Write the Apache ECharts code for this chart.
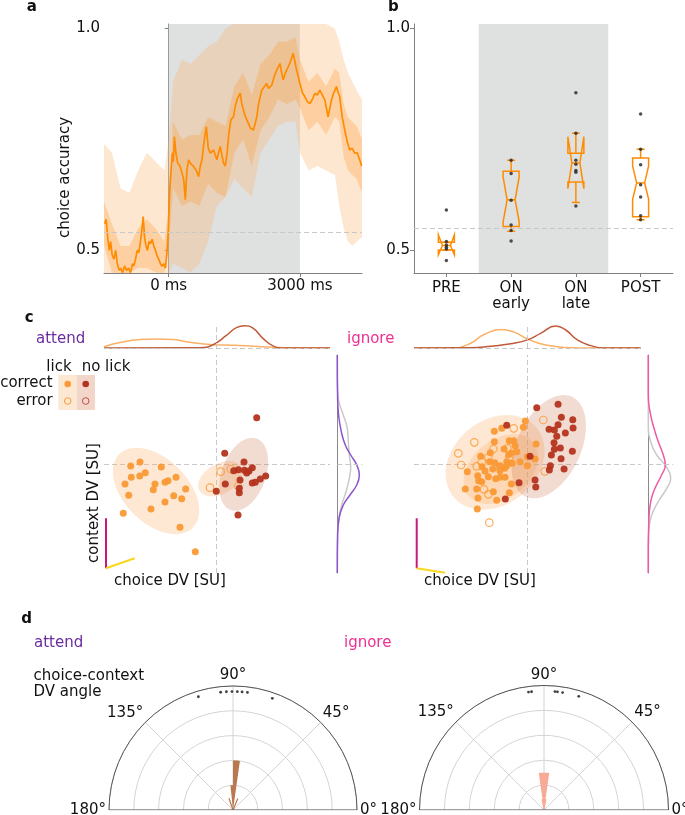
<!DOCTYPE html>
<html><head><meta charset="utf-8">
<script src="https://cdn.jsdelivr.net/npm/echarts@6/dist/echarts.min.js"></script>
<style>html,body{margin:0;padding:0;background:#fff}#c{width:685px;height:815px}</style>
</head><body><div id="c"></div>
<script>
// ---------- Panel a: choice accuracy over time ----------
const aMeanLine = [[-1465,0.56],[-1430,0.57],[-1396,0.53],[-1362,0.50],[-1328,0.52],[-1294,0.49],[-1253,0.48],[-1214,0.50],[-1175,0.47],[-1134,0.455],[-1100,0.46],[-1055,0.45],[-1009,0.465],[-964,0.455],[-918,0.46],[-873,0.45],[-827,0.47],[-797,0.465],[-759,0.48],[-720,0.50],[-684,0.495],[-645,0.52],[-610,0.55],[-583,0.576],[-554,0.53],[-519,0.51],[-485,0.50],[-451,0.52],[-417,0.515],[-378,0.525],[-342,0.51],[-303,0.50],[-264,0.487],[-228,0.48],[-189,0.47],[-150,0.464],[-114,0.47],[-75,0.46],[-36,0.50],[-7,0.55],[16,0.62],[39,0.66],[61,0.69],[84,0.72],[107,0.70],[130,0.756],[164,0.72],[205,0.697],[255,0.69],[305,0.674],[342,0.66],[380,0.614],[415,0.68],[456,0.704],[506,0.695],[569,0.689],[631,0.68],[683,0.666],[722,0.69],[761,0.704],[802,0.74],[859,0.779],[904,0.73],[950,0.719],[989,0.72],[1025,0.726],[1064,0.715],[1102,0.704],[1139,0.72],[1177,0.734],[1216,0.715],[1253,0.697],[1292,0.69],[1337,0.72],[1371,0.76],[1421,0.794],[1481,0.801],[1519,0.824],[1565,0.84],[1634,0.854],[1672,0.83],[1708,0.816],[1759,0.80],[1822,0.786],[1873,0.775],[1936,0.771],[1975,0.785],[2014,0.801],[2055,0.83],[2128,0.861],[2180,0.868],[2241,0.876],[2282,0.865],[2355,0.872],[2408,0.89],[2469,0.906],[2544,0.921],[2583,0.90],[2617,0.884],[2669,0.90],[2734,0.914],[2783,0.925],[2847,0.944],[2886,0.925],[2925,0.906],[2966,0.89],[3000,0.876],[3057,0.855],[3114,0.846],[3171,0.835],[3228,0.831],[3285,0.84],[3342,0.854],[3399,0.85],[3456,0.861],[3513,0.85],[3570,0.839],[3645,0.801],[3684,0.82],[3722,0.839],[3775,0.855],[3836,0.869],[3877,0.855],[3911,0.846],[3968,0.80],[4025,0.771],[4082,0.745],[4139,0.726],[4196,0.73],[4253,0.719],[4310,0.72],[4367,0.704],[4412,0.69]];
// [time, lower, upper]
const aOuterBand = [[-1480,0.449,0.74],[-1300,0.449,0.72],[-1100,0.449,0.64],[-900,0.449,0.63],[-700,0.449,0.68],[-500,0.449,0.72],[-300,0.449,0.70],[-100,0.449,0.68],[0,0.449,0.75],[100,0.47,0.88],[300,0.46,0.93],[500,0.45,0.92],[700,0.47,0.94],[900,0.52,0.96],[1100,0.60,0.97],[1300,0.62,1.0],[1500,0.66,1.01],[1700,0.64,1.01],[1900,0.62,1.01],[2100,0.72,1.01],[2300,0.75,1.01],[2500,0.78,1.01],[2700,0.79,1.01],[2900,0.79,1.01],[3000,0.72,1.01],[3200,0.68,1.01],[3400,0.69,1.01],[3600,0.68,1.01],[3800,0.67,1.0],[3900,0.60,0.97],[4000,0.55,0.93],[4100,0.52,0.90],[4200,0.51,0.88],[4300,0.52,0.86],[4420,0.53,0.84]];
const aInnerBand = [[-1480,0.51,0.61],[-1300,0.45,0.56],[-1100,0.449,0.51],[-900,0.449,0.51],[-700,0.46,0.55],[-500,0.46,0.57],[-300,0.45,0.55],[-100,0.449,0.52],[0,0.50,0.60],[100,0.64,0.79],[300,0.60,0.75],[500,0.61,0.76],[700,0.60,0.76],[900,0.65,0.80],[1100,0.63,0.79],[1300,0.62,0.78],[1500,0.72,0.87],[1700,0.75,0.90],[1900,0.69,0.85],[2100,0.77,0.92],[2300,0.80,0.94],[2500,0.84,0.97],[2700,0.83,0.97],[2900,0.84,0.98],[3000,0.82,0.93],[3200,0.77,0.88],[3400,0.79,0.90],[3600,0.76,0.87],[3800,0.80,0.91],[3900,0.79,0.90],[4000,0.71,0.83],[4100,0.68,0.80],[4200,0.67,0.79],[4300,0.66,0.78],[4420,0.63,0.75]];
const aChance = 0.543;

// ---------- Panel b: boxplots ----------
const bCats = ['PRE', 'ON\nearly', 'ON\nlate', 'POST'];
const bWhisLo = [0.501, 0.543, 0.608, 0.569];
const bQ1 = [0.501, 0.554, 0.654, 0.576];
const bMed = [0.511, 0.614, 0.697, 0.652];
const bQ3 = [0.518, 0.678, 0.719, 0.708];
const bWhisHi = [0.518, 0.703, 0.764, 0.728];
const bNotchLo = [0.49, 0.565, 0.639, 0.615];
const bNotchHi = [0.535, 0.665, 0.756, 0.69];
const bPoints = [
  [0.591, 0.52, 0.512, 0.507, 0.503, 0.477],
  [0.703, 0.673, 0.613, 0.557, 0.545, 0.521],
  [0.855, 0.764, 0.703, 0.694, 0.68, 0.676, 0.60],
  [0.807, 0.728, 0.693, 0.648, 0.62, 0.578, 0.569]
];
const bChance = 0.55;

// ---------- Panel c: DV scatter ----------
const cLLickCorrect = [[-7.67,0.2],[-8.6,-0.2],[-5.54,-0.3],[-7.14,-0.87],[-8.54,-1.33],[-7.70,-1.2],[-4.07,-1.33],[-9.17,-2.0],[-6.17,-2.0],[-5.17,-1.83],[-4.87,-1.67],[-3.1,-2.5],[-6.34,-2.57],[-8.8,-3.13],[-4.3,-3.17],[-3.5,-3.47],[-5.17,-3.8],[-6.57,-4.5],[-9.34,-4.93],[-3.67,-6.33],[-2.14,-8.77]];
const cLLickError = [[0.4,-0.77],[1.4,-0.5],[-0.67,-2.37],[2.16,-2.23]];
const cLNoLickCorrect = [[4.0,4.63],[0.8,1.07],[2.73,0.2],[3.56,-0.37],[1.7,-0.67],[2.16,-0.57],[2.77,-0.63],[3.23,-0.7],[3.0,-0.9],[2.33,-1.6],[0.86,-2.0],[3.56,-1.9],[3.86,-1.83],[4.36,-1.5],[4.9,-1.2],[-0.04,-2.73],[2.26,-2.87],[2.13,-5.1],[2.26,-2.43]];
const cRLickCorrect = [[-0.2,4.3],[-2.56,3.57],[-3.3,3.27],[-0.4,3.67],[-3.3,2.23],[-1.8,2.33],[-1.36,2.33],[-1.23,1.83],[-3.7,1.13],[-2.33,1.5],[0.87,2.0],[-1.86,0.93],[-1.6,1.1],[-4.66,0.77],[-3.76,0.23],[-3.26,0.13],[-2.06,0.23],[-1.53,0.07],[-0.73,0.23],[0.0,0.73],[0.77,0.5],[0.0,-0.17],[-2.73,-0.17],[-2.26,-0.43],[-3.46,-0.5],[-4.53,-0.27],[-6.0,-0.77],[-4.96,-1.17],[-4.86,-1.67],[-4.56,-1.77],[-3.9,-1.27],[-3.16,-1.47],[-2.73,-1.33],[-2.23,-1.33],[-1.6,-2.0],[-6.2,-2.5],[-5.06,-2.5],[-3.4,-2.77],[-1.8,-2.87],[-4.93,-3.4],[-3.06,-3.63],[-5.0,-4.5],[-2.73,-0.67],[-4.23,-0.7],[-2.06,-0.17],[-1.06,1.23]];
const cRLickError = [[1.6,4.4],[-1.36,3.57],[-6.9,1.07],[-6.63,-0.1],[-5.3,2.17],[-3.4,1.5],[-3.9,0.67],[-5.06,-0.23],[-4.33,-2.53],[-3.9,-3.03],[-3.8,-5.87],[-2.0,1.57],[-1.8,0.73],[1.74,-0.73],[-4.56,0.2],[-2.73,-0.37]];
const cRNoLickCorrect = [[3.07,5.97],[0.94,5.63],[3.4,4.67],[4.54,4.43],[-2.06,3.87],[3.07,3.93],[2.17,3.47],[2.7,3.4],[4.57,3.6],[3.8,3.1],[2.94,2.77],[2.67,2.13],[3.3,1.6],[4.5,1.27],[2.7,1.47],[2.4,0.9],[3.37,0.53],[0.27,0.77],[2.3,-0.17],[3.67,-0.5],[2.2,-0.6],[0.77,-1.6],[0.84,-2.3],[-0.83,-1.87],[-2.2,-3.5]];
// ellipses: [cx, cy, semiMajor, semiMinor, angleDeg, colourIndex]
const cLEllipses = [[-6.07,-2.7,5.2,3.2,-45,0],[0.36,-1.47,2.4,1.5,30,0],[2.7,-1.03,3.8,2.2,70,1]];
const cREllipses = [[-3.23,0.17,5.4,4.2,40,0],[-2.66,-0.5,4.2,2.9,40,0],[2.14,1.73,5.5,3.2,65,1]];
// marginal densities (top: [choiceDV, density]; right: [density, contextDV])
const cLTopLick = [[-11.27,0.04],[-9.67,0.18],[-7.67,0.28],[-6.0,0.30],[-4.33,0.28],[-2.67,0.19],[-0.67,0.12],[1.67,0.09],[3.67,0.06],[5.67,0.02],[8.33,0],[11.33,0]];
const cLTopNoLick = [[-11.27,0],[-1.67,0.01],[-0.37,0.11],[0.97,0.42],[1.97,0.68],[2.8,0.74],[3.63,0.66],[4.63,0.32],[5.63,0.07],[6.63,0],[11.33,0]];
const cRTopLick = [[-11.33,0],[-7.3,0],[-5.66,0.16],[-4.33,0.45],[-2.66,0.62],[-1.33,0.53],[0,0.3],[1.33,0.14],[2.67,0.06],[4.34,0.01],[6.34,0],[11.33,0]];
const cRTopNoLick = [[-11.33,0],[-5.66,0.01],[-3.66,0.06],[-1.66,0.14],[0,0.27],[1.33,0.49],[2.83,0.73],[3.83,0.6],[5.0,0.27],[6.33,0.08],[7.67,0],[11.33,0]];
const cLSideAttend = [[0,10.9],[0.3,6.57],[1.3,4.9],[4.0,3.23],[8.0,1.9],[13.4,0.9],[19.4,-0.1],[22.0,-1.1],[19.4,-2.1],[12.7,-3.1],[6.0,-4.1],[1.7,-5.43],[0.3,-7.1],[0,-10.9]];
const cLSideOther = [[0,10.9],[0,8.23],[1,6.57],[6,4.9],[10,3.57],[11,2.23],[12,0.9],[13.4,-0.27],[12,-1.43],[8.7,-2.77],[4.4,-4.1],[1.3,-5.77],[0,-8.43],[0,-10.9]];
const cRSideIgnore = [[0,10.9],[0,6.9],[1.7,5.23],[5.7,3.57],[10,2.23],[15,0.9],[17,-0.1],[13.3,-1.1],[6.7,-2.43],[2.4,-3.77],[0.5,-5.77],[0,-8.43],[0,-10.9]];
const cRSideOther = [[0,10.9],[0,3.9],[2.4,2.23],[8.4,0.9],[18.4,-0.33],[22.4,-1.43],[18.4,-2.43],[10,-3.77],[3.4,-5.1],[0.7,-6.43],[0,-8.43],[0,-10.9]];
// DV direction bars (context = vertical, choice = tilted)
const cLContextBar = [[-11.07,-5.43],[-11.07,-10.43]];
const cLChoiceBar = [[-11.07,-10.43],[-8.2,-9.43]];
const cRContextBar = [[-11.06,-5.43],[-11.06,-10.43]];
const cRChoiceBar = [[-11.06,-10.43],[-8.23,-10.87]];

// ---------- Panel d: polar angle histograms ----------
// [height, angleStart, angleEnd]
const dAttendBins = [[0.4,82,90],[0.2,90,96]];
const dIgnoreBins = [[0.3,82,90],[0.3,90,98]];
const dAttendDots = [107,96,93.2,90.5,87.9,85.6,83,70.6];
const dIgnoreDots = [97.5,96,84.7,83.5,81,73];
const dDotRadius = 0.955;
const dArrowAttend = [[0.1,109],[0,90],[0.1,67]];
const dArrowIgnore = [[0.09,100],[0,90],[0.09,80]];

// ---------- styles ----------
const FONT = 'DejaVu Sans';
const ORANGE = '#ff8c00';
const LICK = '#fa9a35', NOLICK = '#b5341f';
const ELL_COL = ['rgba(252,180,110,0.30)', 'rgba(205,110,70,0.25)'];
const AX = '#808080';
const DASH = {color:'#c8c8c8', type:[5,3], width:1};

const chart = echarts.init(document.getElementById('c'), null, {width:685, height:815});

function bandSeries(pts, color) {
  return {type:'custom', xAxisIndex:0, yAxisIndex:0, z:2, silent:true,
    data:[[pts[0][0], pts[0][1]]],
    renderItem:(params, api) => {
      const up = pts.map(p => api.coord([p[0], p[2]]));
      const lo = pts.slice().reverse().map(p => api.coord([p[0], p[1]]));
      return {type:'polygon', shape:{points: up.concat(lo)}, style:{fill:color}};
    }};
}
function ellipseSeries(ells, g) {
  return {type:'custom', xAxisIndex:g, yAxisIndex:g, z:1, silent:true, data:ells,
    renderItem:(params, api) => {
      const cx=api.value(0), cy=api.value(1), a=api.value(2), b=api.value(3), th=api.value(4)*Math.PI/180;
      const pts=[];
      for (let i=0;i<90;i++){ const t=i/90*2*Math.PI; const x=a*Math.cos(t), y=b*Math.sin(t);
        pts.push(api.coord([cx + x*Math.cos(th) - y*Math.sin(th), cy + x*Math.sin(th) + y*Math.cos(th)])); }
      return {type:'polygon', shape:{points:pts}, style:{fill: ELL_COL[api.value(5)]}};
    }};
}
function scat(data, g, color, hollow, z) {
  return {type:'scatter', xAxisIndex:g, yAxisIndex:g, data, symbolSize: hollow ? 7.5 : 7, z: z||3, silent:true,
    itemStyle: hollow ? {color:'rgba(0,0,0,0)', borderColor:color, borderWidth:1.2} : {color:color, opacity:0.95}};
}
function ln(data, g, color, w, z, extra) {
  return Object.assign({type:'line', xAxisIndex:g, yAxisIndex:g, data, showSymbol:false, symbol:'none', silent:true, z: z||3,
    lineStyle:{color, width:w||1.5}}, extra||{});
}
function wedgeSeries(bins, pi, color) {
  return {type:'custom', coordinateSystem:'polar', polarIndex:pi, z:3, silent:true, data:bins,
    renderItem:(params, api) => {
      const h=api.value(0), a0=api.value(1), a1=api.value(2);
      const pts=[api.coord([0,(a0+a1)/2])];
      for (let k=0;k<=8;k++) pts.push(api.coord([h, a0+(a1-a0)*k/8]));
      return {type:'polygon', shape:{points:pts}, style:{fill:color}};
    }};
}
const hid = (min, max, g) => ({gridIndex:g, type:'value', min, max, show:false});
const ticks = {show:true, length:4, lineStyle:{color:AX}};

const option = {
  animation:false,
  textStyle:{fontFamily:FONT},
  grid:[
    {left:104, top:24, width:258, height:249},
    {left:414, top:24, width:259, height:249},
    {left:104, top:318, width:226, height:30},
    {left:104, top:355, width:226, height:218},
    {left:337.3, top:355, width:25, height:218},
    {left:414, top:318, width:226.7, height:30},
    {left:414, top:355, width:226.7, height:218},
    {left:648.3, top:355, width:25, height:218}
  ],
  xAxis:[
    {gridIndex:0, type:'value', min:-1480, max:4420, splitLine:{show:false},
      axisLine:{lineStyle:{color:AX}}, axisTick:Object.assign({customValues:[0,3000]}, ticks),
      axisLabel:{customValues:[0,3000], formatter:v => String(v) + ' ms', fontSize:15, color:'#111', margin:6}},
    {gridIndex:1, type:'category', data:bCats, boundaryGap:true,
      axisLine:{lineStyle:{color:AX}}, axisTick:Object.assign({alignWithLabel:true}, ticks),
      axisLabel:{fontSize:15, color:'#111', lineHeight:16, margin:7, interval:0}},
    hid(-11.27,11.33,2), hid(-11.27,11.33,3), hid(0,25,4),
    hid(-11.33,11.33,5), hid(-11.33,11.33,6), hid(0,25,7)
  ],
  yAxis:[
    {gridIndex:0, type:'value', min:0.449, max:1.01, splitLine:{show:false},
      axisLine:{show:true, lineStyle:{color:AX}}, axisTick:Object.assign({customValues:[0.5,1.0]}, ticks),
      axisLabel:{customValues:[0.5,1.0], formatter:v=>v.toFixed(1), fontSize:15, color:'#111', margin:4}},
    {gridIndex:1, type:'value', min:0.449, max:1.01, splitLine:{show:false},
      axisLine:{show:true, lineStyle:{color:AX}}, axisTick:Object.assign({customValues:[0.5,1.0]}, ticks),
      axisLabel:{customValues:[0.5,1.0], formatter:v=>v.toFixed(1), fontSize:15, color:'#111', margin:4}},
    hid(0,1,2), hid(-10.9,10.9,3),
    {gridIndex:4, type:'value', min:-10.9, max:10.9, axisLine:{show:true, onZero:false, lineStyle:{color:'#8a8a8a', width:1}},
      axisTick:{show:false}, axisLabel:{show:false}, splitLine:{show:false}},
    hid(0,1,5), hid(-10.9,10.9,6),
    {gridIndex:7, type:'value', min:-10.9, max:10.9, axisLine:{show:true, onZero:false, lineStyle:{color:'#8a8a8a', width:1}},
      axisTick:{show:false}, axisLabel:{show:false}, splitLine:{show:false}}
  ],
  polar:[{center:[233,810], radius:124}, {center:[544,810], radius:124.5}],
  angleAxis:[0,1].map(i => ({polarIndex:i, type:'value', min:0, max:180, interval:45, startAngle:0, endAngle:180, clockwise:false,
    axisLine:{lineStyle:{color:'#555', width:1}}, axisTick:{show:false},
    splitLine:{lineStyle:{color:'#d4d4d4', width:1}},
    axisLabel:{formatter:'{value}°', fontSize:15, color:'#111', margin:3}})),
  radiusAxis:[0,1].map(i => ({polarIndex:i, type:'value', min:0, max:1, interval:0.2,
    axisLine:{show:false}, axisTick:{show:false}, axisLabel:{show:false},
    splitLine:{lineStyle:{color:'#d4d4d4', width:1}}})),
  series:[
    // ---- a ----
    {type:'line', xAxisIndex:0, yAxisIndex:0, data:[[0,0.5]], symbol:'none', lineStyle:{opacity:0}, z:0, silent:true,
      markArea:{silent:true, itemStyle:{color:'#dfe0e0'}, data:[[{xAxis:0},{xAxis:3000}]]}},
    bandSeries(aOuterBand, 'rgba(252,180,110,0.32)'),
    bandSeries(aInnerBand, 'rgba(255,150,40,0.28)'),
    {type:'line', xAxisIndex:0, yAxisIndex:0, data:aMeanLine, symbol:'none', z:4, silent:true,
      lineStyle:{color:ORANGE, width:1.7},
      markLine:{symbol:'none', silent:true, label:{show:false}, lineStyle:DASH, data:[{yAxis:aChance}]}},
    // ---- b ----
    {type:'custom', xAxisIndex:1, yAxisIndex:1, z:0, silent:true, data:[[1,1.01]],
      renderItem:(params, api) => {
        const bw = api.size([1,0])[0];
        const top = api.coord([1,1.01]), bot = api.coord([1,0.449]);
        return {type:'rect', shape:{x:top[0]-bw/2, y:top[1], width:2*bw, height:bot[1]-top[1]}, style:{fill:'#dfe0e0'}};
      }},
    {type:'custom', xAxisIndex:1, yAxisIndex:1, z:3, silent:true, data:bCats.map((c,i)=>[i,bMed[i]]),
      markLine:{symbol:'none', silent:true, label:{show:false}, lineStyle:DASH, data:[{yAxis:bChance}]},
      renderItem:(params, api) => {
        const i = params.dataIndex;
        const cx = api.coord([i, bMed[i]])[0];
        const y = v => api.coord([i, v])[1];
        const hw=8, nw=4, cw=4;
        const st = {stroke:ORANGE, lineWidth:1.5, fill:null};
        const poly = [[cx-hw,y(bQ1[i])],[cx-hw,y(bNotchLo[i])],[cx-nw,y(bMed[i])],[cx-hw,y(bNotchHi[i])],[cx-hw,y(bQ3[i])],
                      [cx+hw,y(bQ3[i])],[cx+hw,y(bNotchHi[i])],[cx+nw,y(bMed[i])],[cx+hw,y(bNotchLo[i])],[cx+hw,y(bQ1[i])]];
        return {type:'group', children:[
          {type:'polygon', shape:{points:poly}, style:st},
          {type:'line', shape:{x1:cx-nw, y1:y(bMed[i]), x2:cx+nw, y2:y(bMed[i])}, style:st},
          {type:'line', shape:{x1:cx, y1:y(bQ3[i]), x2:cx, y2:y(bWhisHi[i])}, style:st},
          {type:'line', shape:{x1:cx, y1:y(bQ1[i]), x2:cx, y2:y(bWhisLo[i])}, style:st},
          {type:'line', shape:{x1:cx-cw, y1:y(bWhisHi[i]), x2:cx+cw, y2:y(bWhisHi[i])}, style:st},
          {type:'line', shape:{x1:cx-cw, y1:y(bWhisLo[i]), x2:cx+cw, y2:y(bWhisLo[i])}, style:st}
        ]};
      }},
    {type:'scatter', xAxisIndex:1, yAxisIndex:1, z:5, silent:true, symbolSize:3.5, itemStyle:{color:'#222'},
      data: bPoints.flatMap((arr,i) => arr.map(v => [i, v]))},
    // ---- c left ----
    ln(cLTopLick, 2, '#fbb065', 1.5, 3, {smooth:0.5,
      markLine:{symbol:'none', silent:true, label:{show:false}, lineStyle:DASH,
        data:[[{coord:[0,0]},{coord:[0,0.78]}], {yAxis:0}]}}),
    ln(cLTopNoLick, 2, '#c05a3a', 1.5, 4, {smooth:0.5}),
    ellipseSeries(cLEllipses, 3),
    Object.assign(scat(cLLickCorrect, 3, LICK, false),
      {markLine:{symbol:'none', silent:true, label:{show:false}, lineStyle:DASH, z:0, data:[{xAxis:0},{yAxis:0}]}}),
    scat(cLLickError, 3, LICK, true),
    scat(cLNoLickCorrect, 3, NOLICK, false, 4),
    ln(cLContextBar, 3, '#c8177f', 2, 5),
    ln(cLChoiceBar, 3, '#f9d71c', 2, 5),
    ln(cLSideOther, 4, '#c9c9c9', 1.5, 3, {smooth:0.5,
      markLine:{symbol:'none', silent:true, label:{show:false}, lineStyle:DASH, data:[{yAxis:0}]}}),
    ln(cLSideAttend, 4, '#8b55cc', 1.5, 4, {smooth:0.5}),
    // ---- c right ----
    ln(cRTopLick, 5, '#fbb065', 1.5, 3, {smooth:0.5,
      markLine:{symbol:'none', silent:true, label:{show:false}, lineStyle:DASH,
        data:[[{coord:[0,0]},{coord:[0,0.78]}], {yAxis:0}]}}),
    ln(cRTopNoLick, 5, '#c05a3a', 1.5, 4, {smooth:0.5}),
    ellipseSeries(cREllipses, 6),
    Object.assign(scat(cRLickCorrect, 6, LICK, false),
      {markLine:{symbol:'none', silent:true, label:{show:false}, lineStyle:DASH, z:0, data:[{xAxis:0},{yAxis:0}]}}),
    scat(cRLickError, 6, LICK, true),
    scat(cRNoLickCorrect, 6, NOLICK, false, 4),
    ln(cRContextBar, 6, '#c8177f', 2, 5),
    ln(cRChoiceBar, 6, '#f9d71c', 2, 5),
    ln(cRSideOther, 7, '#c9c9c9', 1.5, 3, {smooth:0.5,
      markLine:{symbol:'none', silent:true, label:{show:false}, lineStyle:DASH, data:[{yAxis:0}]}}),
    ln(cRSideIgnore, 7, '#ee5aa5', 1.5, 4, {smooth:0.5}),
    // ---- d ----
    wedgeSeries(dAttendBins, 0, '#b87850'),
    wedgeSeries(dIgnoreBins, 1, '#f7ab96'),
    {type:'line', coordinateSystem:'polar', polarIndex:0, data:dArrowAttend, symbol:'none', silent:true, z:4, lineStyle:{color:'#b87850', width:1.2}},
    {type:'line', coordinateSystem:'polar', polarIndex:1, data:dArrowIgnore, symbol:'none', silent:true, z:4, lineStyle:{color:'#f7ab96', width:1.2}},
    {type:'line', coordinateSystem:'polar', polarIndex:0, data:[[1,0],[1,180]], symbol:'none', silent:true, z:5, lineStyle:{color:'#555', width:1}},
    {type:'line', coordinateSystem:'polar', polarIndex:1, data:[[1,0],[1,180]], symbol:'none', silent:true, z:5, lineStyle:{color:'#555', width:1}},
    {type:'scatter', coordinateSystem:'polar', polarIndex:0, data:dAttendDots.map(a=>[dDotRadius,a]), symbolSize:2.8, itemStyle:{color:'#111'}, silent:true, z:5},
    {type:'scatter', coordinateSystem:'polar', polarIndex:1, data:dIgnoreDots.map(a=>[dDotRadius,a]), symbolSize:2.8, itemStyle:{color:'#111'}, silent:true, z:5}
  ],
  graphic:[
    {type:'text', x:31.7, y:7.3, style:{text:'a', font:'bold 15px '+FONT, fill:'#111', textAlign:'center', textVerticalAlign:'middle'}},
    {type:'text', x:393.3, y:7.3, style:{text:'b', font:'bold 15px '+FONT, fill:'#111', textAlign:'center', textVerticalAlign:'middle'}},
    {type:'text', x:29.3, y:318.3, style:{text:'c', font:'bold 15px '+FONT, fill:'#111', textAlign:'center', textVerticalAlign:'middle'}},
    {type:'text', x:26.7, y:619, style:{text:'d', font:'bold 15px '+FONT, fill:'#111', textAlign:'center', textVerticalAlign:'middle'}},
    {type:'text', x:65, y:177.5, rotation:Math.PI/2, style:{text:'choice accuracy', font:'15px '+FONT, fill:'#111', textAlign:'center', textVerticalAlign:'middle'}},
    {type:'text', x:36, y:339.5, style:{text:'attend', font:'15px '+FONT, fill:'#6a2c9f', textAlign:'left', textVerticalAlign:'middle'}},
    {type:'text', x:347, y:339.5, style:{text:'ignore', font:'15px '+FONT, fill:'#ef2f92', textAlign:'left', textVerticalAlign:'middle'}},
    {type:'text', x:59, y:367, style:{text:'lick', font:'15px '+FONT, fill:'#111', textAlign:'center', textVerticalAlign:'middle'}},
    {type:'text', x:106, y:367, style:{text:'no lick', font:'15px '+FONT, fill:'#111', textAlign:'center', textVerticalAlign:'middle'}},
    {type:'text', x:52.7, y:383.5, style:{text:'correct', font:'15px '+FONT, fill:'#111', textAlign:'right', textVerticalAlign:'middle'}},
    {type:'text', x:52.7, y:401, style:{text:'error', font:'15px '+FONT, fill:'#111', textAlign:'right', textVerticalAlign:'middle'}},
    {type:'rect', shape:{x:58.3, y:375, width:18.4, height:35}, style:{fill:'#fde8d3'}},
    {type:'rect', shape:{x:76.7, y:375, width:18.3, height:35}, style:{fill:'#f3d6ca'}},
    {type:'circle', shape:{cx:67.7, cy:384, r:3.3}, style:{fill:LICK}},
    {type:'circle', shape:{cx:85.7, cy:384, r:3.3}, style:{fill:NOLICK}},
    {type:'circle', shape:{cx:67.7, cy:401, r:3.3}, style:{fill:null, stroke:LICK, lineWidth:1}},
    {type:'circle', shape:{cx:85.7, cy:401, r:3.3}, style:{fill:null, stroke:'#c0504d', lineWidth:1}},
    {type:'text', x:94.3, y:503, rotation:Math.PI/2, style:{text:'context DV [SU]', font:'15px '+FONT, fill:'#111', textAlign:'center', textVerticalAlign:'middle'}},
    {type:'text', x:170, y:581.5, style:{text:'choice DV [SU]', font:'15px '+FONT, fill:'#111', textAlign:'center', textVerticalAlign:'middle'}},
    {type:'text', x:480, y:581.5, style:{text:'choice DV [SU]', font:'15px '+FONT, fill:'#111', textAlign:'center', textVerticalAlign:'middle'}},
    {type:'text', x:34, y:643.3, style:{text:'attend', font:'15px '+FONT, fill:'#6a2c9f', textAlign:'left', textVerticalAlign:'middle'}},
    {type:'text', x:344, y:643.3, style:{text:'ignore', font:'15px '+FONT, fill:'#ef2f92', textAlign:'left', textVerticalAlign:'middle'}},
    {type:'text', x:33.5, y:675.7, style:{text:'choice-context', font:'15px '+FONT, fill:'#111', textAlign:'left', textVerticalAlign:'middle'}},
    {type:'text', x:33.5, y:691.7, style:{text:'DV angle', font:'15px '+FONT, fill:'#111', textAlign:'left', textVerticalAlign:'middle'}}
  ]
};
chart.setOption(option);
</script>
</body></html>
